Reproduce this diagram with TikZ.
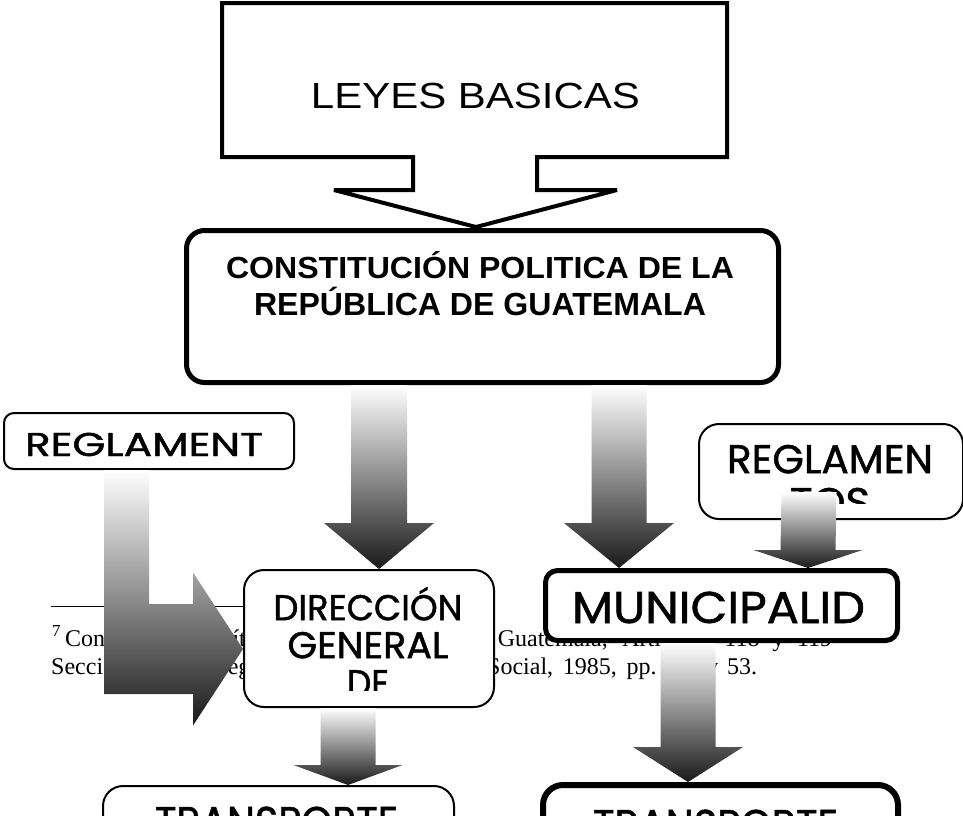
\documentclass[tikz,border=0pt]{standalone}
\usepackage{fontspec}
\usepackage{graphicx}
\usetikzlibrary{calc}
\setmainfont{Liberation Serif}
\newfontfamily\arialf{Liberation Sans}
\newfontfamily\comicf[FakeBold=1.2]{Poppins}
\newcommand\fitw[3]{\resizebox{#1pt}{#2pt}{\vphantom{X}\smash{#3}}}
% #1 start coord (shaft top centre), #2 tip coord, #3 half shaft, #4 half head, #5 head height
\newcommand\blockdown[5]{\shade[arrowshade] ($(#1)+(-#3,0)$) -- ($(#1)+(#3,0)$) -- ($(#2)+(#3,-#5)$) -- ($(#2)+(#4,-#5)$) -- (#2) -- ($(#2)+(-#4,-#5)$) -- ($(#2)+(-#3,-#5)$) -- cycle;}
\tikzset{
  bx/.style={draw, fill=white, rectangle, inner sep=0pt, anchor=north west},
  thinb/.style={bx, line width=2pt},
  thickb/.style={bx, line width=5pt},
  comic/.style={font=\comicf\fontsize{20}{38}\selectfont, inner sep=0pt, align=center},
  arialtxt/.style={font=\arialf\bfseries\fontsize{20}{37}\selectfont, inner sep=0pt, align=center},
  fn/.style={font=\fontsize{24}{28}\selectfont, inner sep=0pt},
  arrowshade/.style={top color=white, bottom color=black!90},
}
\begin{document}
\begin{tikzpicture}[x=1pt,y=-1pt]
\useasboundingbox (0,0) rectangle (963,815);
\fill[white] (0,0) rectangle (963,815);
\begin{scope}
\clip (0,0) rectangle (963,815);

% footnote (behind everything)
\draw[line width=1pt] (51,606) -- (260,606);
\node[fn, anchor=base west] (fn1) at (52,646) {\textsuperscript{7}\hspace{4pt}\makebox[767pt][s]{Constitución Política de la República de Guatemala, Artículos 118 y 119}};
\node[fn, anchor=base west] (fn2) at (51,674) {Sección Décima, régimen económico y};
\node[fn, anchor=base west] (fn3) at (487,674) {\makebox[270pt][s]{Social, 1985, pp. 52 y 53.}};

% callout LEYES BASICAS
\draw[line width=4pt, fill=white, line join=miter, miter limit=2]
  (222,3) -- (727,3) -- (727,157) -- (537,157) -- (537,190) -- (617,190) -- (476,227)
  -- (334,190) -- (413,190) -- (413,157) -- (222,157) -- cycle;
\node[font=\arialf\fontsize{20}{24}\selectfont, inner sep=0pt, anchor=base] (leyes) at (475.5,108) {\fitw{329}{25}{LEYES BASICAS}};

% constitution
\node[thickb, rounded corners=18pt, minimum width=592pt, minimum height=152pt] (const) at (184,228) {};
\node[arialtxt, anchor=north] (consttxt) at (480,257) {\fitw{508}{21}{CONSTITUCIÓN POLITICA DE LA}\\\fitw{452}{22}{REPÚBLICA DE GUATEMALA}};

% reglamentos boxes
\node[thinb, rounded corners=10pt, minimum width=290pt, minimum height=56pt] (regl) at (3,412) {};
\begin{scope}
  \clip (3,412) rectangle (293,457);
  \node[comic, anchor=base] (regltxt) at (144,456) {\fitw{238}{23}{REGLAMENT}};
\end{scope}
\node[thinb, rounded corners=20pt, minimum width=264pt, minimum height=95pt] (regr) at (698,423) {};
\begin{scope}
  \clip (698,423) rectangle (962,503);
  \node[comic, anchor=north, font=\comicf\fontsize{20}{43}\selectfont] (regrtxt) at (830,445) {\fitw{206}{28}{REGLAMEN}\\\fitw{80}{28}{TOS}};
\end{scope}

% direccion
\node[thinb, rounded corners=20pt, minimum width=250pt, minimum height=137pt] (dir) at (243,569) {};
\begin{scope}
  \clip (243,569) rectangle (493,690);
  \node[comic, anchor=north] (dirtxt) at (368,595) {\fitw{189}{25}{DIRECCIÓN}\\\fitw{161}{26}{GENERAL}\\\fitw{42}{26}{DE}};
\end{scope}

% municipalidad
\node[thickb, rounded corners=12pt, minimum width=352pt, minimum height=70pt] (muni) at (543,568) {};
\node[comic, anchor=base] (munitxt) at (718.5,623) {\fitw{293}{31}{MUNICIPALID}};

% transporte boxes
\node[thinb, rounded corners=20pt, minimum width=351pt, minimum height=120pt] (trl) at (102,785) {};
\node[comic, anchor=base] (trltxt) at (276.5,837) {\fitw{243}{30}{TRANSPORTE}};
\node[bx, line width=6pt, rounded corners=20pt, minimum width=355pt, minimum height=120pt] (trr) at (540,782) {};
\node[comic, anchor=base] (trrtxt) at (715.5,840) {\fitw{245}{30}{TRANSPORTE}};

% arrows
\coordinate (a1s) at (379,0 |- const.south);
\coordinate (a1t) at (379,0 |- dir.north);
\blockdown{a1s}{a1t}{28}{55}{46}
\coordinate (a2s) at (619,0 |- const.south);
\coordinate (a2t) at (619,0 |- muni.north);
\blockdown{a2s}{a2t}{27.5}{55}{45}
\coordinate (a3s) at ($(regr.south)+(-22,-28)$);
\coordinate (a3t) at (808,0 |- muni.north);
\blockdown{a3s}{a3t}{27.5}{54.5}{18}
\coordinate (a4s) at (348,0 |- dir.south);
\coordinate (a4t) at (348,0 |- trl.north);
\blockdown{a4s}{a4t}{27.5}{54.5}{20}
\coordinate (a5s) at (688,0 |- muni.south);
\coordinate (a5t) at (688,0 |- trr.north);
\blockdown{a5s}{a5t}{27.5}{55}{35}

% L-shaped arrow from REGLAMENT to DIRECCION
\coordinate (Ls) at ($(regl.south)+(-22.5,0)$);
\coordinate (Lt) at ($(dir.west)+(0,10.5)$);
\shade[arrowshade] ($(Ls)+(-22.5,0)$) -- ($(Ls)+(22.5,0)$) -- ($(Ls |- Lt)+(22.5,-45)$)
  -- ($(Lt)+(-50,-45)$) -- ($(Lt)+(-50,-76.5)$) -- (Lt) -- ($(Lt)+(-50,76.5)$)
  -- ($(Lt)+(-50,45)$) -- ($(Ls |- Lt)+(-22.5,45)$) -- cycle;
\end{scope}
\end{tikzpicture}
\end{document}
